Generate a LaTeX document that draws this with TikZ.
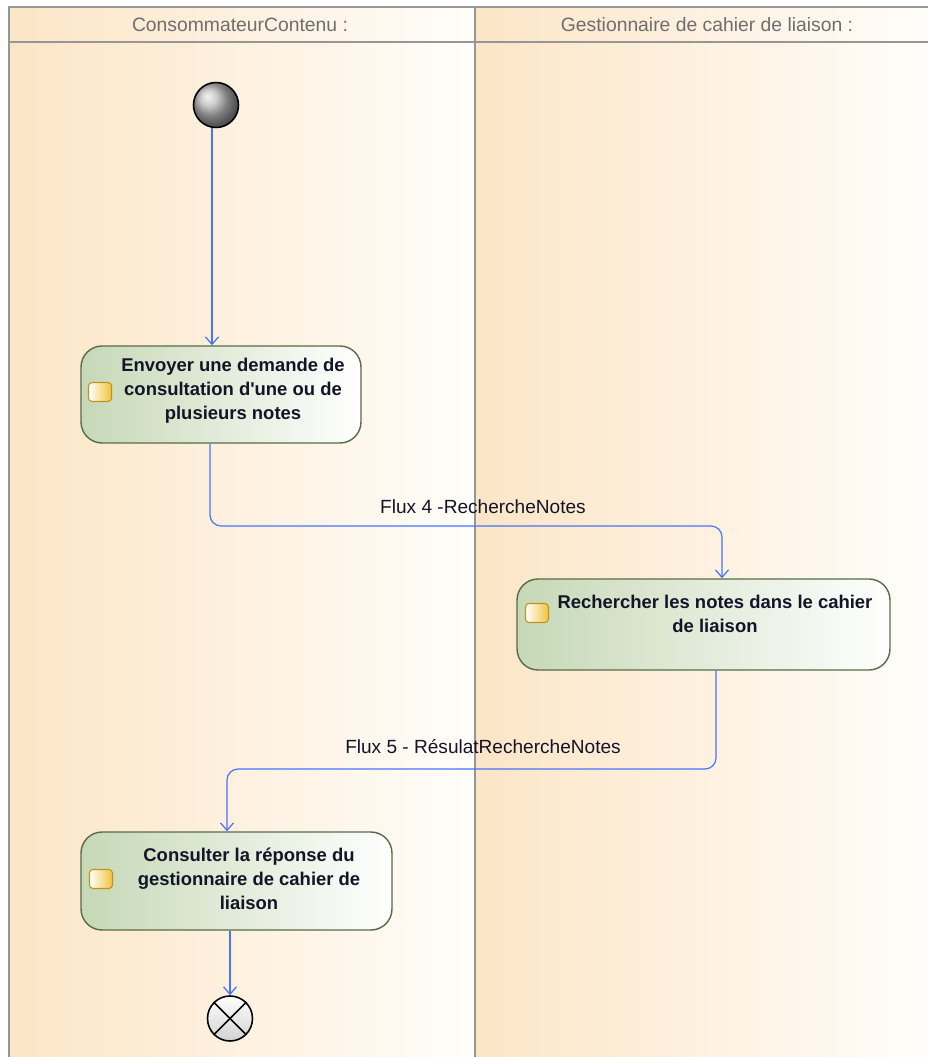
\documentclass[tikz,border=0pt]{standalone}
\usepackage{fontspec}
\setmainfont{Liberation Sans}
\usetikzlibrary{arrows.meta,calc}

\definecolor{lanedark}{RGB}{252,229,198}
\definecolor{lanelight}{RGB}{255,253,250}
\definecolor{framegray}{RGB}{150,150,150}
\definecolor{headtxt}{RGB}{110,110,110}
\definecolor{actgreen}{RGB}{198,216,182}
\definecolor{actborder}{RGB}{88,108,72}
\definecolor{acttxt}{RGB}{20,20,40}
\definecolor{flowblue}{RGB}{72,116,250}
\definecolor{icongold}{RGB}{240,196,60}
\definecolor{iconborder}{RGB}{196,146,30}

\begin{document}
\begin{tikzpicture}[x=0.02cm, y=-0.02cm,
  lane/.style={left color=lanedark, right color=lanelight},
  lanetitle/.style={font=\fontsize{11}{12}\selectfont, text=headtxt},
  action/.style={draw=actborder, line width=0.8pt, rounded corners=0.42cm,
    left color=actgreen, right color=white, inner sep=0pt},
  acttext/.style={font=\fontsize{10.5}{13.6}\selectfont\bfseries, align=center, text=acttxt},
  acticon/.style={draw=iconborder, line width=0.6pt, rounded corners=2pt,
    left color=white, right color=icongold, minimum width=0.46cm, minimum height=0.38cm, inner sep=0pt},
  flow/.style={draw=flowblue, line width=0.7pt, rounded corners=0.22cm,
    -{Straight Barb[length=0.15cm, width=0.26cm]}},
  flowlabel/.style={font=\fontsize{10.85}{12}\selectfont, text=acttxt},
  initial/.style={circle, draw=black, line width=0.9pt, shading=ball, ball color=gray!55,
    minimum size=0.9cm, inner sep=0pt},
  final/.style={circle, draw=black, line width=0.9pt, top color=white, bottom color=gray!35,
    minimum size=0.9cm, inner sep=0pt}]

  \useasboundingbox (0,0) rectangle (928,1057);

  % Swimlanes
  \fill[white] (0,0) rectangle (928,1057);
  \shade[lane] (9,7) rectangle (475,1057);
  \shade[lane] (475,7) rectangle (928,1057);
  \draw[framegray, line width=0.8pt] (928,7) -- (9,7) -- (9,1057);
  \draw[framegray, line width=0.8pt] (9,42) -- (928,42);
  \draw[framegray, line width=0.8pt] (475,7) -- (475,1057);
  \node[lanetitle] (lane1) at (240,25) {ConsommateurContenu :};
  \node[lanetitle] (lane2) at (707,25) {Gestionnaire de cahier de liaison :};

  % Start
  \node[initial] (start) at (216,105) {};

  % Actions
  \node[action, minimum width=5.6cm, minimum height=1.94cm] (act1) at (221,394.5) {};
  \node[acticon] (icon1) at (100,392) {};
  \node[acttext] (act1t) at (233,391) {Envoyer une demande de\\consultation d\textquotesingle une ou de\\plusieurs notes};

  \node[action, minimum width=7.46cm, minimum height=1.82cm] (act2) at (703.5,624.5) {};
  \node[acticon] (icon2) at (537,613) {};
  \node[acttext] (act2t) at (715,613.5) {Rechercher les notes dans le cahier\\de liaison};

  \node[action, minimum width=6.22cm, minimum height=1.96cm] (act3) at (236.5,881) {};
  \node[acticon] (icon3) at (101,879) {};
  \node[acttext] (act3t) at (249,879) {Consulter la réponse du\\gestionnaire de cahier de\\liaison};

  % End
  \node[final] (stop) at (230,1018.5) {};
  \draw[line width=0.9pt] (stop.north west) -- (stop.south east);
  \draw[line width=0.9pt] (stop.north east) -- (stop.south west);

  % Flows
  \coordinate (f4) at (483,526);
  \coordinate (f5) at (483,769);
  \draw[flow] (start.south -| 212,0) -- (act1.north -| 212,0);
  \draw[flow] (act1.south -| 210,0) |- (f4) -| (act2.north -| 722,0);
  \draw[flow] (act2.south -| 716,0) |- (f5) -| (act3.north -| 227,0);
  \draw[flow] (act3.south -| stop) -- (stop.north);
  \node[flowlabel] (f4l) at (483,507) {Flux 4 -RechercheNotes};
  \node[flowlabel] (f5l) at (483,747) {Flux 5 - RésulatRechercheNotes};
\end{tikzpicture}
\end{document}
